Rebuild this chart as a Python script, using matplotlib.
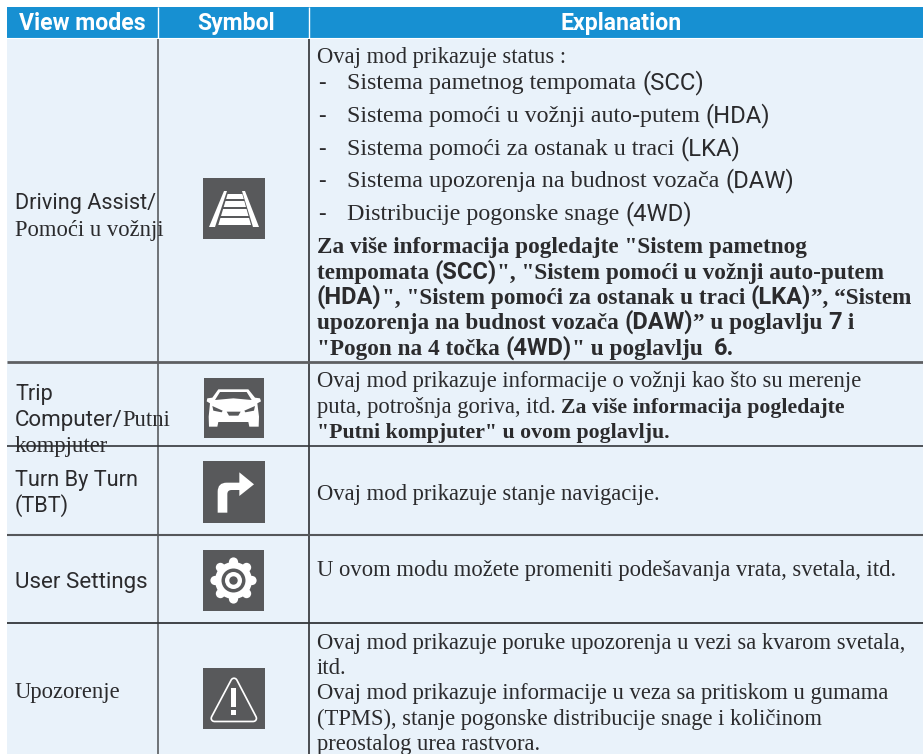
import numpy as np
import matplotlib
matplotlib.use("Agg")
import matplotlib.pyplot as plt
from matplotlib.patches import Rectangle, Polygon, Circle, PathPatch
from matplotlib.path import Path

# ---------- content ----------
HEADERS = ["View modes", "Symbol", "Explanation"]
MODE_LINES = [
    [("Driving Assist/", "sans")],
    [("Pomoći u vožnji", "serif")],
    [("Trip", "sans")],
    [("Computer/", "sansL"), ("Putni", "serif")],
    [("kompjuter", "serif")],
    [("Turn By Turn", "sans")],
    [("(TBT)", "sans")],
    [("User Settings", "sansL")],
    [("Upozorenje", "serif")],
]
EXPLAIN_LINES = [
    [("Ovaj mod prikazuje status :", "serif")],
    [("Za više informacija pogledajte \"Sistem pametnog", "bold")],
    [("tempomata ", "bold"), ("(SCC)", "sbold"), ("\", \"Sistem pomoći u vožnji auto-putem", "bold")],
    [("(HDA)", "sbold"), ("\", \"Sistem pomoći za ostanak u traci ", "bold"), ("(LKA)", "sbold"), ("”, “Sistem", "bold")],
    [("upozorenja na budnost vozača ", "bold"), ("(DAW)", "sbold"), ("” u poglavlju ", "bold"), ("7", "sbold"), (" i", "bold")],
    [("\"Pogon na 4 točka ", "bold"), ("(4WD)", "sbold"), ("\" u poglavlju  ", "bold"), ("6.", "sbold")],
    [("Ovaj mod prikazuje informacije o vožnji kao što su merenje", "serif")],
    [("puta, potrošnja goriva, itd. ", "serif"), ("Za više informacija pogledajte", "bold2")],
    [("\"Putni kompjuter\" u ovom poglavlju.", "bold2")],
    [("Ovaj mod prikazuje stanje navigacije.", "serif")],
    [("U ovom modu možete promeniti podešavanja vrata, svetala, itd.", "serif")],
    [("Ovaj mod prikazuje poruke upozorenja u vezi sa kvarom svetala,", "serif")],
    [("itd.", "serif")],
    [("Ovaj mod prikazuje informacije u veza sa pritiskom u gumama", "serif")],
    [("(TPMS), stanje pogonske distribucije snage i količinom", "serif")],
    [("preostalog urea rastvora.", "serif")],
]
BULLET_LINES = [
    [("Sistema pametnog tempomata ", "serifL"), ("(SCC)", "sans2")],
    [("Sistema pomoći u vožnji auto-putem ", "serifL"), ("(HDA)", "sans2")],
    [("Sistema pomoći za ostanak u traci ", "serifL"), ("(LKA)", "sans2")],
    [("Sistema upozorenja na budnost vozača ", "serifL"), ("(DAW)", "sans2")],
    [("Distribucije pogonske snage ", "serifL"), ("(4WD)", "sans2")],
]

# ---------- layout (pixels) ----------
W, H = 923, 754
MODE_Y = [209, 236, 400, 426, 452, 486, 512, 588, 698]
EXPL_Y = [63, 253, 279, 304, 329, 355, 387, 413, 438, 500, 576, 649, 674, 699, 725, 750]
BULLET_Y = [89, 122, 155, 187, 220]
HEAD_X = [82, 236, 621]
ROW_LINES = [(362, 2.0, "#5e5f62"), (446, 1.2, "#33363a"), (535, 1.5, "#55575a"), (623, 1.3, "#33363a")]
COL_LINES = [(158, 1.2, "#5a5c60"), (309, 1.2, "#2e3033")]
INK = "#2b2b2d"
FONTS = {
    "sans":   dict(family="Roboto", size=15.6, color=INK),
    "sansL":  dict(family="Roboto", size=16.1, color=INK),
    "serif":  dict(family="Liberation Serif", size=16.25, color=INK),
    "serifL": dict(family="Liberation Serif", size=17.3, color=INK),
    "bold":   dict(family="Liberation Serif", size=16.75, weight="bold", color=INK),
    "bold2":  dict(family="Liberation Serif", size=15.7, weight="bold", color=INK),
    "sbold":  dict(family="Roboto", size=17.0, weight="bold", color=INK),
    "sans2":  dict(family="Roboto", size=17.2, color=INK),
}

fig = plt.figure(figsize=(W / 100, H / 100), dpi=100, facecolor="white")
ax = fig.add_axes([0, 0, 1, 1])
ax.set_xlim(0, W)
ax.set_ylim(H, 0)
ax.axis("off")

ax.add_patch(Rectangle((7, 38), W - 7, H - 38, fc="#E9F2FA", ec="none", zorder=1))
ax.add_patch(Rectangle((7, 7), W - 7, 31, fc="#1790D2", ec="none", zorder=1))
for x in (158, 309):
    ax.plot([x, x], [7, 38], color="white", lw=1.0, zorder=2, solid_capstyle="butt")
ax.plot([7, W], [38, 38], color="white", lw=0.8, zorder=2)
for x, lw, c in COL_LINES:
    ax.plot([x, x], [39, H], color=c, lw=lw, zorder=2, solid_capstyle="butt")
for y, lw, c in ROW_LINES:
    ax.plot([7, W], [y, y], color=c, lw=lw, zorder=2, solid_capstyle="butt")

for s, x in zip(HEADERS, HEAD_X):
    ax.text(x, 30, s, ha="center", va="baseline", family="Roboto", weight="bold",
            size=16.6, color="white", zorder=4)

fig.canvas.draw()
rend = fig.canvas.get_renderer()


def adv(s, style):
    a = ax.text(0, 0, s + "|", **FONTS[style])
    b = ax.text(0, 0, "|", **FONTS[style])
    w = a.get_window_extent(rend).width - b.get_window_extent(rend).width
    a.remove()
    b.remove()
    return w


def runs(x, y, parts):
    for s, style in parts:
        ax.text(x, y, s, va="baseline", ha="left", zorder=4, clip_on=True, **FONTS[style])
        x += adv(s, style)


for parts, y in zip(MODE_LINES, MODE_Y):
    runs(15, y, parts)
for parts, y in zip(EXPLAIN_LINES, EXPL_Y):
    runs(317, y, parts)
for parts, y in zip(BULLET_LINES, BULLET_Y):
    ax.text(318, y, "-", va="baseline", zorder=4, **FONTS["serif"])
    runs(347, y, parts)

# ---------- icons ----------
DARK = "#58595B"


def box(x0, y0, x1, y1):
    ax.add_patch(Rectangle((x0, y0), x1 - x0, y1 - y0, fc=DARK, ec="none", zorder=3))


def white_poly(pts, fc="white"):
    ax.add_patch(Polygon(pts, closed=True, fc=fc, ec="none", zorder=5))


# road
box(203, 178, 265, 239)
ox, oy = 203, 178
white_poly([(ox + 21, oy + 13), (ox + 24, oy + 13), (ox + 12, oy + 49), (ox + 6, oy + 49)])
white_poly([(ox + 39, oy + 13), (ox + 42, oy + 13), (ox + 56, oy + 49), (ox + 50, oy + 49)])
for ya, yb in [(16, 21), (23, 29), (31, 38), (40, 47)]:
    la, lb = 25.5 - (ya - 13) * 0.3, 25.5 - (yb - 13) * 0.3
    ra, rb = 38.5 + (ya - 13) * 0.28, 38.5 + (yb - 13) * 0.28
    white_poly([(ox + la, oy + ya), (ox + ra, oy + ya), (ox + rb, oy + yb), (ox + lb, oy + yb)])

# car
ax.add_patch(Rectangle((204, 377.5), 60, 60.5, fc=DARK, ec="none", zorder=3))
z = lambda pts: [(x / 3, 360 + y / 3) for x, y in pts]
white_poly(z([(655, 88), (745, 88), (765, 113), (780, 115), (783, 124), (772, 130), (777, 170), (776, 200),
              (748, 200), (745, 186), (655, 186), (652, 200), (627, 200), (626, 170), (630, 130), (620, 124), (622, 115), (637, 113)]))
white_poly(z([(660, 96), (740, 96), (755, 120), (700, 115), (645, 120)]), DARK)
white_poly(z([(637, 138), (668, 152), (665, 157), (640, 152)]), DARK)
white_poly(z([(765, 138), (733, 152), (736, 157), (762, 152)]), DARK)
white_poly(z([(680, 155), (722, 155), (715, 167), (687, 167)]), DARK)

# arrow
box(203, 461, 265, 523)
verts = [(653, 458), (653, 395), (653, 368), (680, 368), (718, 368), (718, 337), (762, 373), (718, 408),
         (718, 390), (695, 390), (682, 390), (682, 402), (682, 458), (653, 458)]
codes = [Path.MOVETO, Path.LINETO, Path.CURVE3, Path.CURVE3, Path.LINETO, Path.LINETO, Path.LINETO, Path.LINETO,
         Path.LINETO, Path.LINETO, Path.CURVE3, Path.CURVE3, Path.LINETO, Path.CLOSEPOLY]
ax.add_patch(PathPatch(Path(z(verts), codes), fc="white", ec="none", zorder=5))

# gear
box(203, 550, 264, 611)
cx, cy = 233.5, 580.5
ax.add_patch(Circle((cx, cy), 18.5, fc="white", ec="none", zorder=5))
for a in np.arange(8) * np.pi / 4 - np.pi / 2:
    ax.add_patch(Circle((cx + 18.5 * np.cos(a), cy + 18.5 * np.sin(a)), 4.6, fc="white", ec="none", zorder=5))
ax.add_patch(Circle((cx, cy), 12, fc=DARK, ec="none", zorder=6))
ax.add_patch(Circle((cx, cy), 8.5, fc="white", ec="none", zorder=7))
ax.add_patch(Circle((cx, cy), 4.2, fc=DARK, ec="none", zorder=8))

# warning
box(203, 668, 265, 729)
z2 = lambda pts: [(x / 3, 540 + y / 3) for x, y in pts]
tri = z2([(702, 424), (760, 535), (643, 535)])
ax.add_patch(Polygon(tri, closed=True, fc="white", ec="white", lw=5.76, joinstyle="round", zorder=5))
ax.add_patch(Polygon(tri, closed=True, fc=DARK, ec=DARK, lw=3.3, joinstyle="round", zorder=5.5))
ax.add_patch(Polygon(z2([(693, 445), (708, 445), (708, 500), (693, 500)]), closed=True, fc="white", ec="none", zorder=6))
ax.add_patch(Polygon(z2([(693, 510), (708, 510), (708, 525), (693, 525)]), closed=True, fc="white", ec="none", zorder=6))

fig.savefig("out.png", dpi=100, facecolor="white")
